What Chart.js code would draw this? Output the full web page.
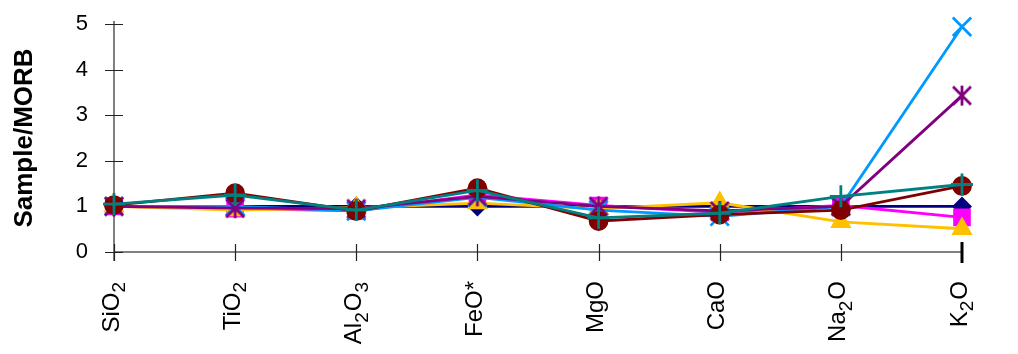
<!DOCTYPE html>
<html>
<head>
<meta charset="utf-8">
<script src="https://cdn.jsdelivr.net/npm/chart.js@4.4.1/dist/chart.umd.min.js"></script>
<style>
  html, body { margin: 0; padding: 0; background: #fff; }
  #wrap { width: 1018px; height: 354px; }
</style>
</head>
<body>
<div id="wrap"><canvas id="chart"></canvas></div>
<script>
// Oxide categories and normalised values (Sample / MORB)
const categories = ["SiO2", "TiO2", "Al2O3", "FeO*", "MgO", "CaO", "Na2O", "K2O"];
const yTicks = [0, 1, 2, 3, 4, 5];

const seriesNavy    = [1.0, 1.0, 1.0, 1.0, 1.0, 1.0, 1.0, 1.0];
const seriesMagenta = [1.0, 0.95, 0.9, 1.25, 1.02, 0.87, 1.02, 0.76];
const seriesGold    = [1.0, 0.92, 0.97, 1.07, 0.95, 1.08, 0.66, 0.51];
const seriesBlue    = [1.0, 1.0, 0.9, 1.2, 0.92, 0.78, 1.0, 4.94];
const seriesPurple  = [1.0, 0.96, 0.95, 1.22, 1.0, 0.9, 1.0, 3.43];
const seriesRed     = [1.03, 1.29, 0.9, 1.4, 0.68, 0.82, 0.92, 1.45];
const seriesTeal    = [1.05, 1.25, 0.92, 1.35, 0.75, 0.85, 1.22, 1.48];

const FONT = "'Liberation Sans', Arial, sans-serif";
Chart.defaults.font.family = FONT;

// asterisk marker (X with a vertical bar)
function makeStar(color) {
  const size = 26, c = document.createElement('canvas');
  c.width = c.height = size;
  const g = c.getContext('2d');
  const m = size / 2, d = 9;
  g.strokeStyle = color;
  g.lineWidth = 2.8;
  g.beginPath();
  g.moveTo(m - d, m - d); g.lineTo(m + d, m + d);
  g.moveTo(m + d, m - d); g.lineTo(m - d, m + d);
  g.moveTo(m, m - d - 1); g.lineTo(m, m + d + 1);
  g.stroke();
  return c;
}

function ds(data, color, style, radius) {
  return {
    data: data,
    borderColor: color,
    backgroundColor: color,
    borderWidth: 2.8,
    pointStyle: style,
    pointRadius: radius,
    pointHoverRadius: radius,
    pointBorderColor: color,
    pointBackgroundColor: color,
    pointBorderWidth: 2.8,
    tension: 0,
    clip: false
  };
}

// draw the axes with crossing tick marks
const axesPlugin = {
  id: 'axes',
  beforeDatasetsDraw(chart) {
    const { ctx, scales: { x, y }, chartArea: a } = chart;
    ctx.save();
    ctx.strokeStyle = '#808080';
    ctx.lineWidth = 2;
    ctx.beginPath();
    ctx.moveTo(a.left, a.top - 3); ctx.lineTo(a.left, a.bottom + 9);
    ctx.moveTo(a.left, a.bottom); ctx.lineTo(a.right, a.bottom);
    ctx.stroke();
    ctx.strokeStyle = '#222';
    ctx.lineWidth = 1.2;
    ctx.beginPath();
    y.ticks.forEach((t, i) => {
      const py = Math.round(y.getPixelForTick(i)) + 0.5;
      ctx.moveTo(a.left - 9, py); ctx.lineTo(a.left + 9, py);
    });
    x.ticks.forEach((t, i) => {
      if (i === x.ticks.length - 1) return;
      const px = Math.round(x.getPixelForTick(i)) + 0.5;
      ctx.moveTo(px, a.bottom - 8); ctx.lineTo(px, a.bottom + 9);
    });
    ctx.stroke();
    const last = x.getPixelForTick(x.ticks.length - 1);
    ctx.strokeStyle = '#000';
    ctx.lineWidth = 3;
    ctx.beginPath();
    ctx.moveTo(last, a.bottom - 10); ctx.lineTo(last, a.bottom + 11);
    ctx.stroke();
    ctx.restore();
  }
};

// rotated category labels with subscript digits
const labelPlugin = {
  id: 'oxideLabels',
  afterDraw(chart) {
    const { ctx, scales: { x } } = chart;
    const top = 281;
    ctx.save();
    ctx.fillStyle = '#000';
    categories.forEach((label, i) => {
      const parts = label.match(/\d+|\D+/g).map(p => ({ t: p, sub: /\d/.test(p) }));
      let w = 0;
      parts.forEach(p => {
        ctx.font = (p.sub ? '19px ' : '24px ') + FONT;
        p.w = ctx.measureText(p.t).width + (p.sub ? 1 : 0);
        w += p.w;
      });
      const px = x.getPixelForTick(i);
      ctx.save();
      ctx.translate(px - 2, top);
      ctx.rotate(-Math.PI / 2);
      ctx.textBaseline = 'middle';
      let cx = -w;
      parts.forEach(p => {
        ctx.font = (p.sub ? '19px ' : '24px ') + FONT;
        ctx.fillText(p.t, cx, p.sub ? 8 : 0);
        cx += p.w;
      });
      ctx.restore();
    });
    ctx.restore();
  }
};

new Chart(document.getElementById('chart'), {
  type: 'line',
  data: {
    labels: categories,
    datasets: [
      ds(seriesTeal, '#008080', 'cross', 11),
      ds(seriesRed, '#800000', 'circle', 8.5),
      ds(seriesPurple, '#800080', makeStar('#800080'), 9),
      ds(seriesBlue, '#0099FF', 'crossRot', 13),
      ds(seriesGold, '#FFC000', 'triangle', 9.5),
      ds(seriesMagenta, '#FF00FF', 'rect', 10.5),
      ds(seriesNavy, '#000080', 'rectRot', 8)
    ]
  },
  options: {
    responsive: true,
    maintainAspectRatio: false,
    animation: false,
    layout: { padding: { left: 4, right: 56, top: 24, bottom: 0 } },
    plugins: { legend: { display: false }, tooltip: { enabled: false } },
    scales: {
      x: {
        type: 'category',
        offset: false,
        grid: { display: false, drawTicks: false },
        border: { display: false },
        ticks: { display: false },
        afterFit(scale) { scale.height = 102; scale.paddingLeft = 0; scale.paddingRight = 0; }
      },
      y: {
        min: 0,
        max: 5,
        afterBuildTicks(scale) { scale.ticks = yTicks.map(v => ({ value: v })); },
        grid: { display: false, drawTicks: false },
        border: { display: false },
        ticks: { color: '#000', padding: 26, font: { size: 22 } },
        title: {
          display: true,
          text: 'Sample/MORB',
          color: '#000',
          font: { size: 26, weight: 'bold' },
          padding: { top: 5, bottom: 0 }
        },
        afterFit(scale) { scale.width = 110; scale.paddingTop = 0; scale.paddingBottom = 0; }
      }
    }
  },
  plugins: [axesPlugin, labelPlugin]
});
</script>
</body>
</html>
